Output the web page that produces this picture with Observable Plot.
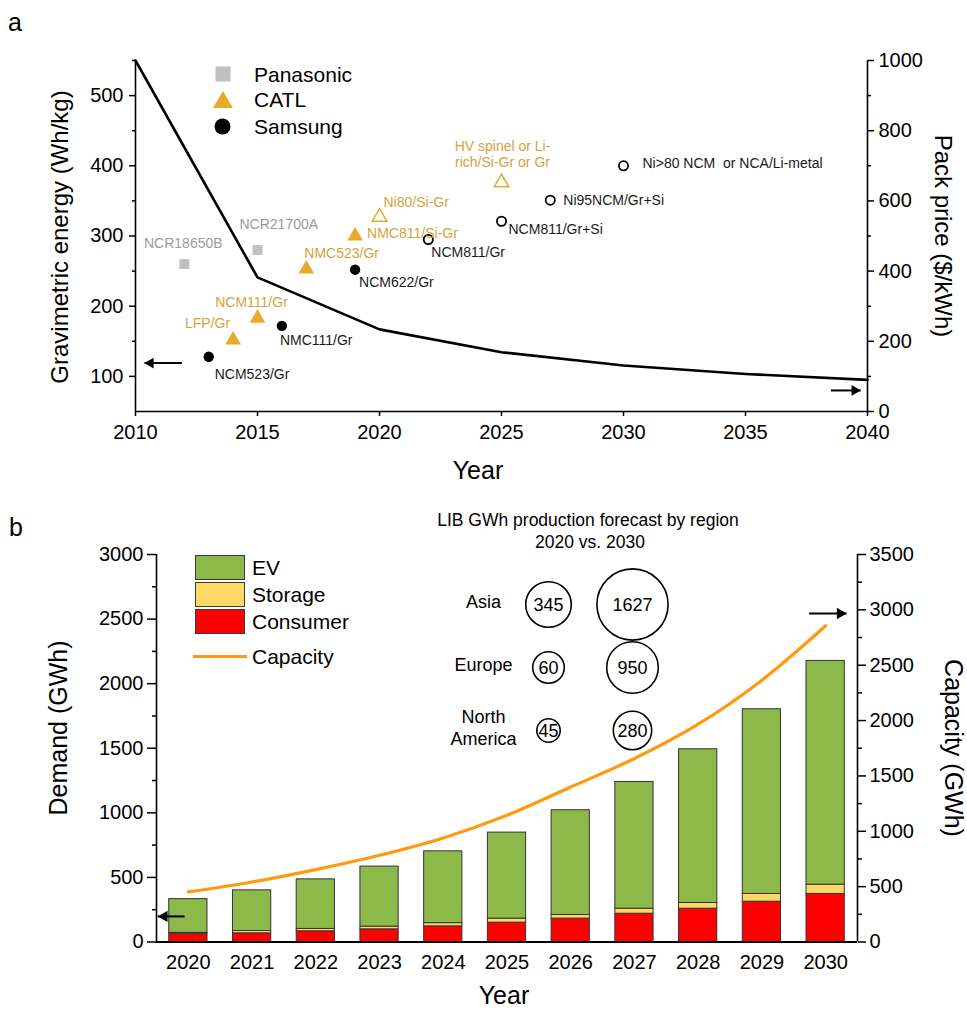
<!DOCTYPE html>
<html>
<head>
<meta charset="utf-8">
<script src="https://cdn.jsdelivr.net/npm/d3@7"></script>
<script src="https://cdn.jsdelivr.net/npm/@observablehq/plot@0.6"></script>
<style>
  html, body { margin: 0; padding: 0; background: #fff; }
  body { font-family: "Liberation Sans", Arial, sans-serif; color: #000; }
  #page { position: relative; width: 967px; height: 1011px; overflow: hidden; background: #fff; }
  .abs { position: absolute; }
  .t { position: absolute; white-space: nowrap; line-height: 1; transform: translate(-50%, -50%); }
  .tl { position: absolute; white-space: nowrap; line-height: 1; transform: translate(0, -50%); }
  .box { position: absolute; box-sizing: border-box; border: 1px solid #3a3a3a; }
</style>
</head>
<body>
<div id="page">
  <div id="chartA" class="abs" style="left:0;top:0"></div>
  <div id="chartB" class="abs" style="left:0;top:500px"></div>
  <div id="inset" class="abs" style="left:440px;top:560px"></div>
</div>
<script>
// ---------------- Panel a data ----------------
const priceYears = [2010, 2015, 2020, 2025, 2030, 2035, 2040];
const packPrice  = [1000, 382, 234, 169, 131, 107, 90];

const cellNames = ["NCR18650B", "NCR21700A", "LFP/Gr", "NCM111/Gr", "NMC523/Gr", "NMC811/Si-Gr",
  "Ni80/Si-Gr", "HV spinel or Li-\nrich/Si-Gr or Gr", "NCM523/Gr", "NMC111/Gr", "NCM622/Gr",
  "NCM811/Gr", "NCM811/Gr+Si", "Ni95NCM/Gr+Si", "Ni>80 NCM  or NCA/Li-metal"];
const cellMakers = ["Panasonic", "Panasonic", "CATL", "CATL", "CATL", "CATL", "CATL", "CATL",
  "Samsung", "Samsung", "Samsung", "Samsung", "Samsung", "Samsung", "Samsung"];
const cellYears  = [2012, 2015, 2014, 2015, 2017, 2019, 2020, 2025, 2013, 2016, 2019, 2022, 2025, 2027, 2030];
const cellEnergy = [260, 280, 152, 183, 253, 300, 327, 376, 128, 172, 252, 295, 321, 351, 400];
const cellProjected = [false, false, false, false, false, false, true, true, false, false, false, true, true, true, true];

const makers = ["Panasonic", "CATL", "Samsung"];
const energyTicks = [100, 200, 300, 400, 500];
const energyMinorTicks = [150, 250, 350, 450, 550];
const priceTicks = [0, 200, 400, 600, 800, 1000];
const priceMinorTicks = [100, 300, 500, 700, 900];
const yearTicks = [2010, 2015, 2020, 2025, 2030, 2035, 2040];

// axis pointer arrows (annotation)
const energyPointer = {from: 2011.9, to: 2010.37, energy: 119};
const pricePointer  = {from: 2038.5, to: 2039.72, price: 60};

// ---------------- Panel b data ----------------
const demandYears = [2020, 2021, 2022, 2023, 2024, 2025, 2026, 2027, 2028, 2029, 2030];
const consumerDemand = [63, 67, 83, 98, 121, 150, 181, 219, 258, 312, 372];
const storageDemand  = [8, 18, 18, 21, 25, 31, 28, 39, 44, 60, 72];
const evDemand       = [261, 315, 384, 465, 556, 666, 811, 981, 1190, 1430, 1732];
const capacityGWh    = [452, 542, 654, 783, 940, 1145, 1400, 1657, 1967, 2365, 2856];
const segments = ["EV", "Storage", "Consumer"];
const demandTicks = [0, 500, 1000, 1500, 2000, 2500, 3000];
const demandMinorTicks = [250, 750, 1250, 1750, 2250, 2750];
const capacityTicks = [0, 500, 1000, 1500, 2000, 2500, 3000, 3500];
const capacityMinorTicks = [250, 750, 1250, 1750, 2250, 2750, 3250];

const demandPointer   = {from: 2019.94, to: 2019.52, demand: 198};
const capacityPointer = {from: 2029.74, to: 2030.33, capacity: 2967};

const regions = ["Asia", "Europe", "North America"];
const prod2020 = [345, 60, 45];
const prod2030 = [1627, 950, 280];
const periods = ["2020", "2030"];

// ---------------- styles ----------------
const FONT = '"Liberation Sans", Arial, sans-serif';
const GOLD = "#E8AA2C";
const GOLD_TEXT = "#D6A23C";
const GRAY = "#C0C0C0";
const GRAY_TEXT = "#9A9A9A";
const segColors = ["#8DB84A", "#FFD966", "#FF0000"];
const ORANGE = "#FF9A10";
const makerText = {Panasonic: GRAY_TEXT, CATL: GOLD_TEXT, Samsung: "#1a1a1a"};

const labelLayout = {
  "NCR18650B": {dx: -1, dy: -21, anchor: "middle"},
  "NCR21700A": {dx: -18, dy: -26, anchor: "start"},
  "LFP/Gr": {dx: -3, dy: -17, anchor: "end"},
  "NCM111/Gr": {dx: -6, dy: -16, anchor: "middle"},
  "NMC523/Gr": {dx: -2, dy: -16, anchor: "start"},
  "NMC811/Si-Gr": {dx: 12, dy: -3, anchor: "start"},
  "Ni80/Si-Gr": {dx: 4, dy: -15, anchor: "start"},
  "HV spinel or Li-\nrich/Si-Gr or Gr": {dx: 1, dy: -29, anchor: "middle"},
  "NCM523/Gr": {dx: 6, dy: 17, anchor: "start"},
  "NMC111/Gr": {dx: -2, dy: 14, anchor: "start"},
  "NCM622/Gr": {dx: 4, dy: 12, anchor: "start"},
  "NCM811/Gr": {dx: 3, dy: 12, anchor: "start"},
  "NCM811/Gr+Si": {dx: 7, dy: 7, anchor: "start"},
  "Ni95NCM/Gr+Si": {dx: 13, dy: 0, anchor: "start"},
  "Ni>80 NCM  or NCA/Li-metal": {dx: 19, dy: -3, anchor: "start"}
};

// ---------------- Panel a ----------------
const cells = cellNames.map((name, i) => ({
  name, maker: cellMakers[i], year: cellYears[i], energy: cellEnergy[i], projected: cellProjected[i]
}));
const priceRows = priceYears.map((year, i) => ({year, price: packPrice[i]}));
const priceToLeft = p => 50 + p / 2;   // right axis (0–1000) shares the frame with left axis (50–550)

const labelMarks = cells.map(d => {
  const L = labelLayout[d.name];
  return Plot.text([d], {
    x: "year", y: "energy", text: "name", dx: L.dx, dy: L.dy, textAnchor: L.anchor,
    fill: makerText[d.maker], fontSize: 14, lineHeight: 1.18
  });
});

const chartA = Plot.plot({
  width: 967, height: 500,
  marginLeft: 135, marginRight: 100, marginTop: 60, marginBottom: 89,
  style: {fontFamily: FONT, fontSize: "20px", color: "#000", background: "transparent", overflow: "visible"},
  x: {domain: [2010, 2040], label: null},
  y: {domain: [50, 550], label: null},
  marks: [
    Plot.axisX(yearTicks, {tickSize: 5, tickPadding: 8, fontSize: 20, tickFormat: d => String(d), strokeWidth: 1.5}),
    Plot.axisY(energyTicks, {anchor: "left", tickSize: 6, tickPadding: 6, fontSize: 20, tickFormat: d => String(d), strokeWidth: 1.5}),
    Plot.axisY(energyMinorTicks, {anchor: "left", tickSize: 3, tickFormat: () => "", strokeWidth: 1.5}),
    Plot.axisY(priceTicks.map(priceToLeft), {anchor: "right", tickSize: 6, tickPadding: 5, fontSize: 20,
      tickFormat: d => String(Math.round((d - 50) * 2)), strokeWidth: 1.5}),
    Plot.axisY(priceMinorTicks.map(priceToLeft), {anchor: "right", tickSize: 3, tickFormat: () => "", strokeWidth: 1.5}),
    Plot.ruleX([2010, 2040], {strokeWidth: 1.6}),
    Plot.ruleY([50], {strokeWidth: 1.6}),
    Plot.line(priceRows, {x: "year", y: d => priceToLeft(d.price), stroke: "#000", strokeWidth: 2.6}),
    // Panasonic
    Plot.dot(cells.filter(d => d.maker === "Panasonic"), {x: "year", y: "energy", symbol: "square", r: 5.6, fill: GRAY}),
    // CATL
    Plot.dot(cells.filter(d => d.maker === "CATL" && !d.projected), {x: "year", y: "energy", symbol: "triangle", r: 5.8, fill: GOLD}),
    Plot.dot(cells.filter(d => d.maker === "CATL" && d.projected), {x: "year", y: "energy", symbol: "triangle", r: 5.4, fill: "white", stroke: GOLD, strokeWidth: 1.5}),
    // Samsung
    Plot.dot(cells.filter(d => d.maker === "Samsung" && !d.projected), {x: "year", y: "energy", r: 5.2, fill: "#000"}),
    Plot.dot(cells.filter(d => d.maker === "Samsung" && d.projected), {x: "year", y: "energy", r: 4.6, fill: "white", stroke: "#000", strokeWidth: 1.8}),
    ...labelMarks,
    // axis pointers
    Plot.link([energyPointer], {x1: "from", x2: "to", y1: "energy", y2: "energy", strokeWidth: 2}),
    Plot.dot([energyPointer], {x: "to", y: "energy", symbol: "triangle", r: 4, rotate: -90, dx: 6, fill: "#000"}),
    Plot.link([pricePointer], {x1: "from", x2: "to", y1: d => priceToLeft(d.price), y2: d => priceToLeft(d.price), strokeWidth: 2}),
    Plot.dot([pricePointer], {x: "to", y: d => priceToLeft(d.price), symbol: "triangle", r: 4, rotate: 90, dx: -6, fill: "#000"})
  ]
});
document.getElementById("chartA").append(chartA);

// ---------------- Panel b ----------------
const demandRows = demandYears.flatMap((year, i) => [
  {year, segment: "Consumer", value: consumerDemand[i]},
  {year, segment: "Storage", value: storageDemand[i]},
  {year, segment: "EV", value: evDemand[i]}
]);
const capRows = demandYears.map((year, i) => ({year, capacity: capacityGWh[i]}));
const capToLeft = c => c * 3000 / 3500;  // right axis (0–3500) shares the frame with left axis (0–3000)
const HALF_BAR = 0.3;

const chartB = Plot.plot({
  width: 967, height: 511,
  marginLeft: 156, marginRight: 110, marginTop: 54, marginBottom: 69.5,
  style: {fontFamily: FONT, fontSize: "20px", color: "#000", background: "transparent", overflow: "visible"},
  x: {domain: [2019.5, 2030.5], label: null},
  y: {domain: [0, 3000], label: null},
  color: {domain: segments, range: segColors},
  marks: [
    Plot.rectY(demandRows, Plot.stackY({
      x: "year", x1: d => d.year - HALF_BAR, x2: d => d.year + HALF_BAR, y: "value",
      fill: "segment", stroke: "#333", strokeWidth: 1
    })),
    Plot.axisX(demandYears, {tickSize: 0, tickPadding: 13, fontSize: 20, tickFormat: d => String(d)}),
    Plot.axisY(demandTicks, {anchor: "left", tickSize: 9, tickPadding: 4, fontSize: 20, tickFormat: d => String(d), strokeWidth: 1.5}),
    Plot.axisY(demandMinorTicks, {anchor: "left", tickSize: 4, tickFormat: () => "", strokeWidth: 1.5}),
    Plot.axisY(capacityTicks.map(capToLeft), {anchor: "right", tickSize: 8, tickPadding: 4, fontSize: 20,
      tickFormat: d => String(Math.round(d * 3500 / 3000)), strokeWidth: 1.5}),
    Plot.axisY(capacityMinorTicks.map(capToLeft), {anchor: "right", tickSize: 4, tickFormat: () => "", strokeWidth: 1.5}),
    Plot.ruleX([2019.5, 2030.5], {strokeWidth: 1.6}),
    Plot.ruleY([0], {strokeWidth: 1.8}),
    Plot.line(capRows, {x: "year", y: d => capToLeft(d.capacity), stroke: ORANGE, strokeWidth: 3.2, curve: "catmull-rom"}),
    Plot.link([demandPointer], {x1: "from", x2: "to", y1: "demand", y2: "demand", strokeWidth: 2}),
    Plot.dot([demandPointer], {x: "to", y: "demand", symbol: "triangle", r: 4.2, rotate: -90, dx: 6.5, fill: "#000"}),
    Plot.link([capacityPointer], {x1: "from", x2: "to", y1: d => capToLeft(d.capacity), y2: d => capToLeft(d.capacity), strokeWidth: 2}),
    Plot.dot([capacityPointer], {x: "to", y: d => capToLeft(d.capacity), symbol: "triangle", r: 4.2, rotate: 90, dx: -6.5, fill: "#000"})
  ]
});
document.getElementById("chartB").append(chartB);

// ---------------- Inset bubbles ----------------
const bubbleRows = regions.flatMap((region, i) => [
  {region, period: periods[0], value: prod2020[i]},
  {region, period: periods[1], value: prod2030[i]}
]);
const bubbleValues = [...prod2020, ...prod2030].sort((a, b) => a - b);
const inset = Plot.plot({
  width: 240, height: 200, margin: 0,
  style: {fontFamily: FONT, background: "transparent", overflow: "visible"},
  x: {type: "point", domain: periods, range: [108, 192], padding: 0, axis: null},
  y: {type: "point", domain: regions, range: [44, 170], padding: 0, axis: null},
  r: {type: "linear", domain: bubbleValues, range: [11.7, 15.8, 19.2, 22.8, 25.8, 35.6]},
  marks: [
    Plot.dot(bubbleRows, {x: "period", y: "region", r: "value", stroke: "#000", strokeWidth: 1.6, fill: "none"}),
    Plot.text(bubbleRows, {x: "period", y: "region", text: d => String(d.value), fontSize: 18, dy: 1}),
    Plot.text(regions, {x: () => periods[0], y: d => d, text: d => d.replace(" ", "\n"), dx: -65, dy: -4, fontSize: 18, lineHeight: 1.22})
  ]
});
document.getElementById("inset").append(inset);

// ---------------- Titles, legends, panel letters ----------------
const page = document.getElementById("page");
function addText(txt, x, y, size, opts = {}) {
  const el = document.createElement("div");
  el.className = opts.left ? "tl" : "t";
  el.textContent = txt;
  el.style.left = x + "px";
  el.style.top = y + "px";
  el.style.fontSize = size + "px";
  if (opts.rotate) el.style.transform = `translate(-50%, -50%) rotate(${opts.rotate}deg)`;
  if (opts.color) el.style.color = opts.color;
  page.append(el);
  return el;
}
addText("a", 15, 22, 25);
addText("b", 16, 527, 25);
addText("Gravimetric energy (Wh/kg)", 60, 237, 24, {rotate: -90});
addText("Pack price ($/kWh)", 943, 236, 24, {rotate: 90});
addText("Year", 478, 470, 25);
addText("Demand (GWh)", 58, 728, 25, {rotate: -90});
addText("Capacity (GWh)", 953, 748, 25, {rotate: 90});
addText("Year", 504, 995, 25);
addText("LIB GWh production forecast by region", 588, 521, 17.5);
addText("2020 vs. 2030", 590, 543, 17.5);

// panel a legend
const legA = [
  {name: makers[0], svg: `<rect x="0.5" y="0.5" width="15" height="15" fill="${GRAY}"/>`, w: 16, h: 16},
  {name: makers[1], svg: `<polygon points="10,1 20,18 0,18" fill="${GOLD}"/>`, w: 20, h: 19},
  {name: makers[2], svg: `<circle cx="8.5" cy="8.5" r="8" fill="#000"/>`, w: 17, h: 17}
];
const legAY = [73.5, 99, 126];
legA.forEach((d, i) => {
  const s = document.createElement("div");
  s.className = "abs";
  s.style.left = (222.7 - d.w / 2) + "px";
  s.style.top = (legAY[i] - d.h / 2) + "px";
  s.innerHTML = `<svg width="${d.w}" height="${d.h}">${d.svg}</svg>`;
  page.append(s);
  addText(d.name, 254, legAY[i], 21, {left: true});
});

// panel b legend
const legBTop = [554.5, 581.5, 608.5];
segments.forEach((seg, i) => {
  const b = document.createElement("div");
  b.className = "box";
  b.style.left = "195px"; b.style.top = legBTop[i] + "px";
  b.style.width = "50px"; b.style.height = "25px";
  b.style.background = segColors[i];
  page.append(b);
  addText(seg, 252, legBTop[i] + 12.5, 21, {left: true});
});
const capLine = document.createElement("div");
capLine.className = "abs";
Object.assign(capLine.style, {left: "193px", top: "654.5px", width: "54px", height: "3px", background: ORANGE});
page.append(capLine);
addText("Capacity", 252, 656, 21, {left: true});
</script>
</body>
</html>
